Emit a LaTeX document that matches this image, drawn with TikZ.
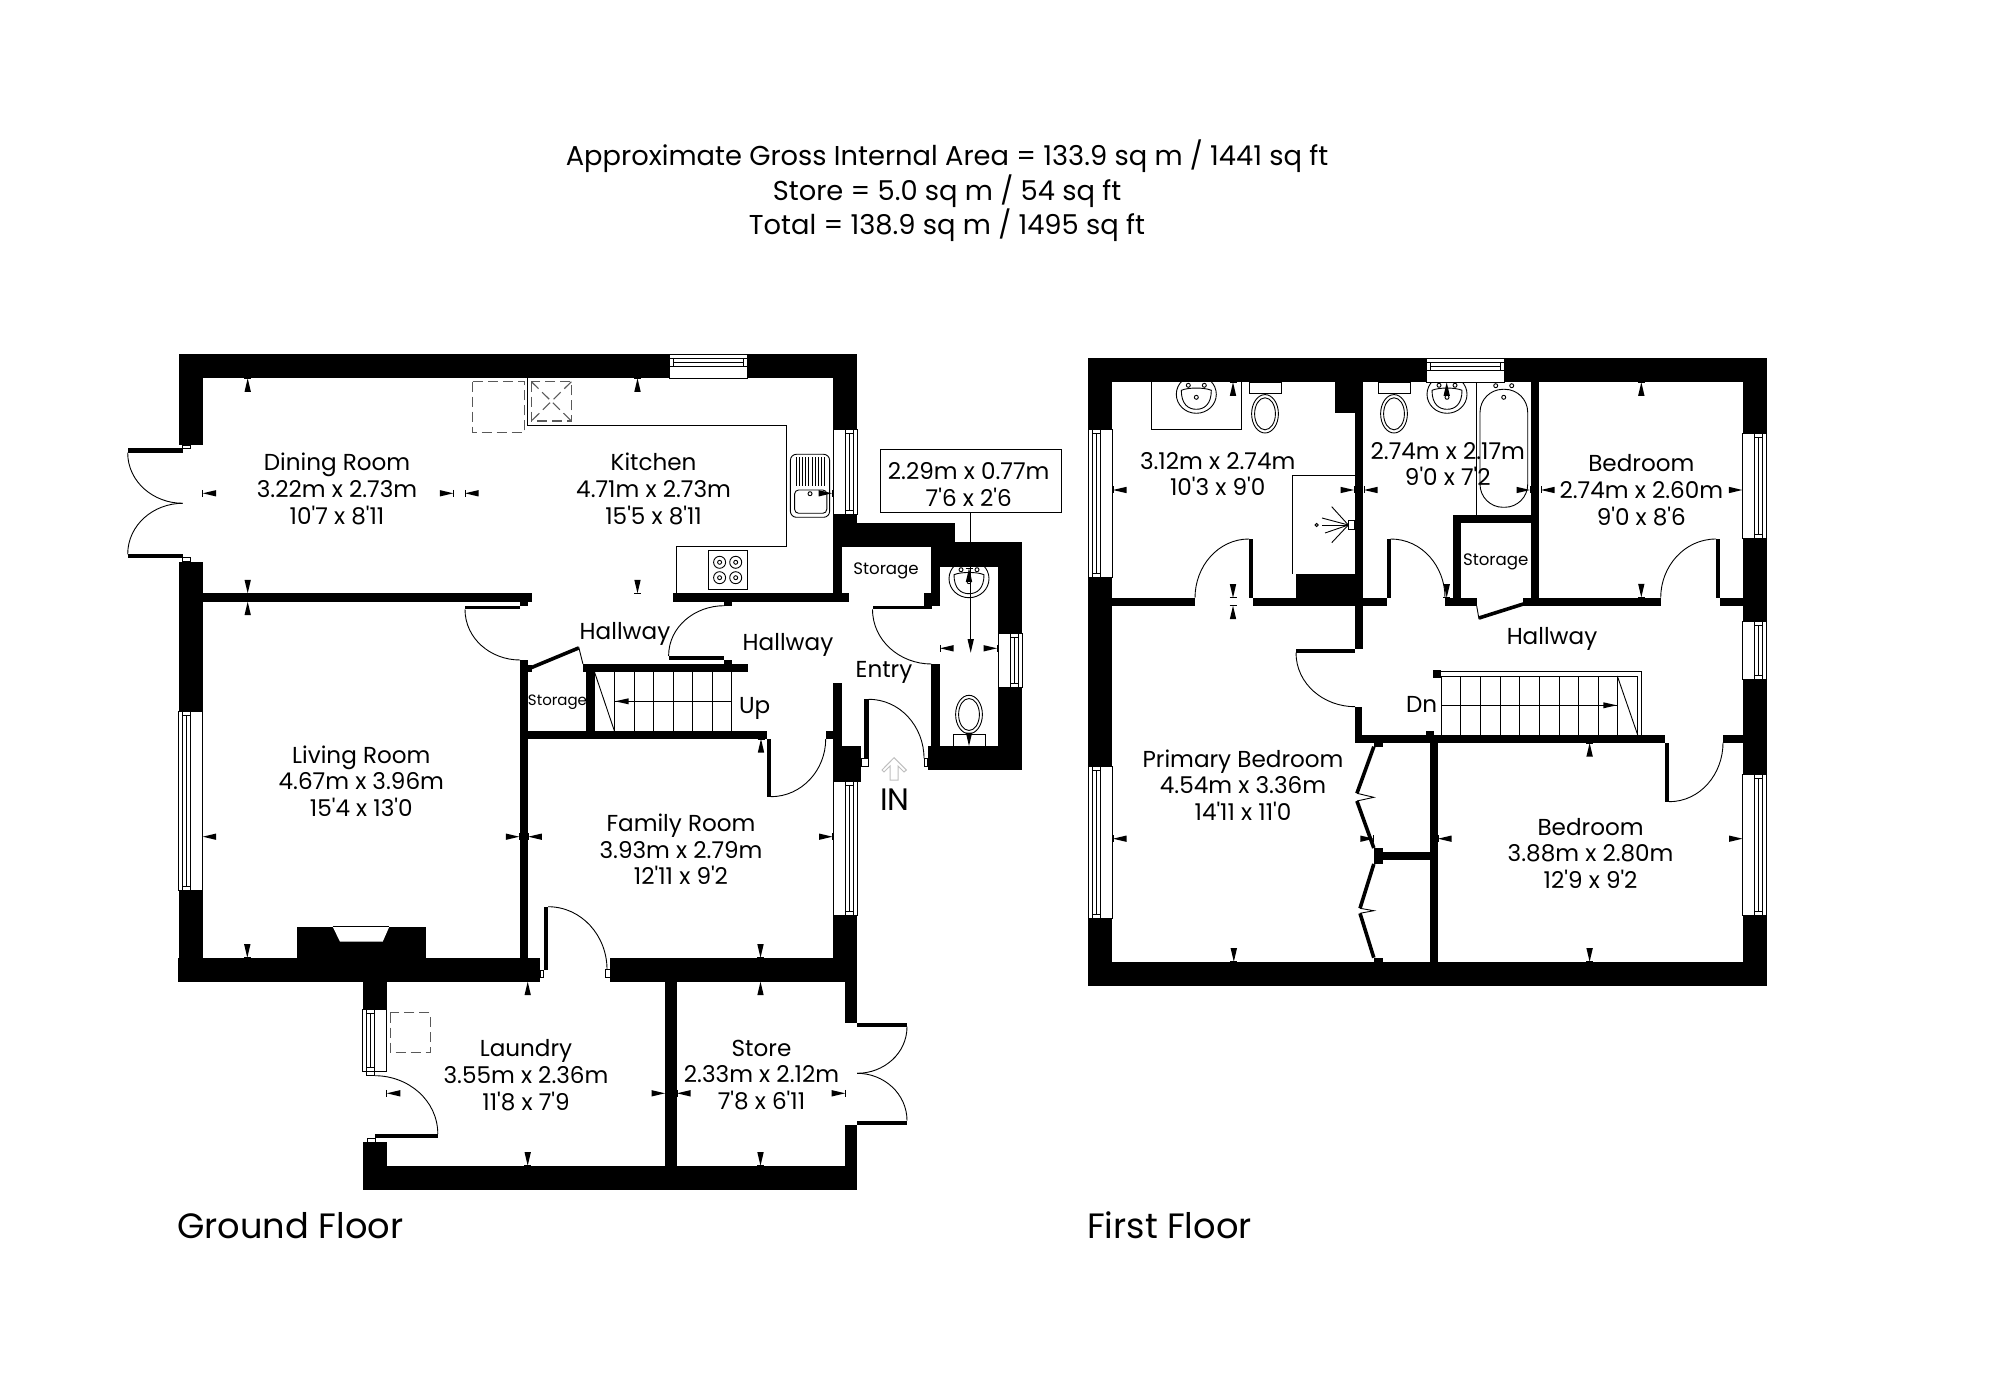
\documentclass[tikz,border=0pt]{standalone}
\usepackage{fontspec}
\newfontfamily\planfont{Poppins}
\tikzset{
  room/.style={font=\planfont\fontsize{11.55}{13.35}\selectfont, align=center, inner sep=0pt},
  smallroom/.style={font=\planfont\fontsize{8.3}{10}\selectfont, inner sep=0pt},
  floorname/.style={font=\planfont\fontsize{17.6}{20}\selectfont, anchor=west, inner sep=0pt},
  title/.style={font=\planfont\fontsize{13.65}{17.25}\selectfont, align=center, inner sep=0pt},
  wall/.style={fill=black},
  fine/.style={draw=black, line width=0.45pt},
  hatch/.style={draw=black!65, line width=0.55pt, dash pattern=on 5pt off 2.5pt},
}
\begin{document}
\begin{tikzpicture}[x=0.5pt,y=-0.5pt]
\useasboundingbox (0,0) rectangle (2000,1400);

\node[title] (areas) at (947,191) {Approximate Gross Internal Area = 133.9 sq m / 1441 sq ft\\Store = 5.0 sq m / 54 sq ft\\Total = 138.9 sq m / 1495 sq ft};

\node[fine, minimum width=90.5pt, minimum height=31.5pt, inner sep=0pt] (wcdims) at (970.7,480.5) {};
\node[room] (wcsize) at (968.7,484.5) {2.29m x 0.77m\\7'6 x 2'6};
\coordinate (wctip) at (970.7,640);
\draw[fine] (wcdims) -- (wctip);
\fill[wall] (970.7,652.7) -- (967.5,639.2) -- (973.9,639.2) -- cycle;

\draw[fine] (527.9,378.3) -- (527.9,425) -- (786.4,425) -- (786.4,546.7) -- (676.8,546.7) -- (676.8,593.3);
\draw[hatch] (472.7,381.7) rectangle (524.3,432.7);
\draw[hatch] (390.3,1012.7) rectangle (430.2,1052.3);
\draw[hatch] (531.4,381.7) rectangle (571.4,421);
\draw[hatch] (531.4,381.7) -- (571.4,421);
\draw[hatch] (571.4,381.7) -- (531.4,421);
\draw[fine] (708.2,550) rectangle (747.5,589.3);
\foreach \hx in {719.6,735.7}
  \foreach \hy in {562.3,577.7} {
    \draw[fine] (\hx,\hy) circle (3pt);
    \draw[fine] (\hx,\hy) circle (1pt);
  }
\draw[fine, rounded corners=3pt] (790.4,454.3) rectangle (829.6,517.3);
\draw[fine, rounded corners=2pt] (794.6,490) rectangle (826.8,513.3);
\foreach \tk in {0,...,9}
  \draw[fine] (796+\tk*3.2,457.3) -- (796+\tk*3.2,485.7);
\draw[fine] (810,493.7) circle (1pt);

\foreach \bx/\by in {1196.3/382.3,1447/382.3,969/566.7} {
  \begin{scope}[shift={(\bx,\by)}]
    \begin{scope}
      \clip (-21,0) rectangle (21,32);
      \draw[fine] (0,12) ellipse (10pt and 9.5pt);
    \end{scope}
    \draw[fine] (-15,8) .. controls (-15,22) and (-8,27) .. (0,27) .. controls (8,27) and (15,22) .. (15,8) .. controls (8,5) and (-8,5) .. cycle;
    \draw[fine] (-8,3) circle (1pt);
    \draw[fine] (8,3) circle (1pt);
    \draw[fine] (0,15) circle (1pt);
  \end{scope}
}
\foreach \tx/\ty/\ts in {1265/382.3/1,1394/382.3/1,969/746/-1} {
  \begin{scope}[shift={(\tx,\ty)}, yscale=\ts]
    \draw[fine] (-16,0) rectangle (16,11.5);
    \draw[fine] (0,31.5) ellipse (6.7pt and 9.6pt);
    \draw[fine] (0,31.5) ellipse (5.2pt and 8pt);
  \end{scope}
}

\draw[fine] (1151,382.3) -- (1151,429) -- (1241.7,429) -- (1241.7,382.3);
\draw[fine] (1292.3,574) -- (1292.3,475.7) -- (1355,475.7);
\draw[fine] (1316.7,525) circle (0.8pt);
\foreach \rx/\ry in {1331.7/506.7,1322/518,1322/525,1325/533,1331.7/542.7}
  \draw[fine] (1348.3,525) -- (\rx,\ry);
\draw[fine, fill=white] (1348.3,520.5) rectangle (1354,529.5);
\draw[fine] (1476.7,382.3) -- (1476.7,515);
\draw[fine, rounded corners=11.5pt] (1480,389.3) rectangle (1527.7,507.3);
\draw[fine] (1495.7,385.7) circle (1pt);
\draw[fine] (1511.7,385.7) circle (1pt);
\draw[fine] (1503.7,397.3) circle (1pt);

\foreach \sx in {614.3,634,653.6,673.2,692.9,712.1,731.4}
  \draw[fine] (\sx,671.7) -- (\sx,730.7);
\draw[fine] (594.6,672.3) -- (614.3,730.7);
\draw[fine] (731.4,701.3) -- (615,701.3);
\fill[wall] (615,701.3) -- (628.6,698.3) -- (628.6,704.3) -- cycle;

\foreach \sx in {1441,1460.7,1480.3,1500,1519.7,1539.3,1559,1578.7,1598.3,1617.3}
  \draw[fine] (\sx,676) -- (\sx,735);
\draw[fine] (1441,671.7) -- (1641.7,671.7) -- (1641.7,735);
\draw[fine] (1441,676) -- (1637.7,676) -- (1637.7,735);
\draw[fine] (1617.3,676) -- (1637.7,735);
\draw[fine] (1441,705.3) -- (1616.7,705.3);
\fill[wall] (1616.7,705.3) -- (1603.4,702.3) -- (1603.4,708.3) -- cycle;

\foreach \xa/\ya/\xb/\yb in {178.7/354/857/378.3, 178.7/354/202.7/445, 178.7/561.7/202.7/981.7,
  833/354/857/546.7, 833/522.7/955.4/546.7, 833/546.7/842/593.3, 931.4/542.3/1022/566.7,
  931.4/546.7/940/605.7, 923.6/593.3/940/605.7, 872.5/605.7/932/609.3, 931.4/664/940/746,
  998.2/542.3/1022/770, 927.5/746/1022/770, 672.5/593.3/849.3/601.7, 724.3/601.7/732/605.7,
  202.7/593.3/532/601.7, 520/601.7/528.3/605.7, 465/605.7/520/609.3, 519.6/660/527.9/957.7,
  527.9/665/532/671.7, 582.9/664/747.5/671.7, 724.3/660/732/664, 668.6/656/724.3/660,
  586.4/671.7/594.6/730.7, 527.9/730.7/767/739, 767/739/770.7/796.7, 825.7/730.7/833/739,
  833/683.3/842/746, 833/746/861.4/781.7, 833/781.7/857/981.7, 178.3/957.7/540/981.7,
  296.7/926.7/426/957.7, 362.7/981.7/386.8/1009.3, 543.5/906.7/548/970, 610/957.7/857/981.7,
  665/981.7/677/1165.7, 845/981.7/857.2/1022.7, 845/1125/857.2/1190, 362.7/1165.7/857.2/1190,
  362.7/1142.3/386.8/1190, 857.2/1023.3/907/1026.7, 857.2/1120.7/907/1125,
  127.7/448.3/182.7/452.7, 127.7/554.3/182.7/558.3, 374.8/1134/437.8/1138.3,
  864.3/699.3/868.6/758.3,
  1088.3/358.3/1766.7/382.3, 1088.3/358.3/1112.3/985.7, 1742.7/358.3/1766.7/985.7,
  1088.3/961.7/1766.7/985.7, 1112.3/597.7/1195/606, 1252.7/597.7/1386.7/606,
  1249/539/1252.7/597.7, 1296/574/1355/597.7, 1335/382/1355/413.3, 1355/382/1363.3/649,
  1296/649/1355/652.7, 1386.7/539/1390.7/597.7, 1445/597.7/1476.7/606, 1453.3/515/1461/598,
  1453.3/515/1531/523.3, 1531/382/1539.3/606, 1523.3/597.7/1660.7/606, 1716/539/1720/597.7,
  1720/597.7/1743/606, 1354.6/706.7/1362.4/742.7, 1354.6/734.5/1665/742.7, 1723/734.5/1743/742.7,
  1664.5/742.7/1669/801.7, 1425.7/730.5/1434/735, 1430/735/1438/961.7, 1383/851.7/1430/860,
  1373.8/848/1383/864, 1373.8/742.7/1383/746.7, 1373.8/957.7/1383/961.7, 1433.3/670/1441/678.3}
  \fill[wall] (\xa,\ya) rectangle (\xb,\yb);

\fill[white] (332.7,926.7) -- (389.3,926.7) -- (382.7,941.7) -- (340,941.7) -- cycle;
\draw[fine] (332.7,926.7) -- (389.3,926.7);

\foreach \xa/\ya/\xb/\yb in {182.7/445/190.7/448.3, 182.7/557.7/190.7/561.7, 540/970/543.5/977.3,
  605.9/969.3/610/977.3, 366.2/1071.7/374.8/1075.7, 367/1138.3/375/1142.3, 861.4/758/868.6/766.7,
  924/758/927.5/766.7}
  \draw[fine] (\xa,\ya) rectangle (\xb,\yb);

\foreach \xo/\s/\ya/\yb in {178.3/1/711.7/890.7, 857/-1/429.3/514.3, 1022/-1/633.3/687.3,
  857/-1/781.7/915, 362.7/1/1009.3/1071.7, 1088.3/1/429.3/577.3, 1088.3/1/766.7/918.3,
  1766.7/-1/433.3/538.3, 1766.7/-1/621/679.3, 1766.7/-1/774.3/915} {
  \draw[fine, fill=white] (\xo,\ya) rectangle (\xo+\s*24,\yb);
  \draw[fine] (\xo+\s*4,\ya) rectangle (\xo+\s*12,\yb);
  \draw[fine] (\xo+\s*8,\ya+4) -- (\xo+\s*8,\yb-4);
  \draw[fine] (\xo+\s*4,\ya+4) -- (\xo+\s*12,\ya+4);
  \draw[fine] (\xo+\s*4,\yb-4) -- (\xo+\s*12,\yb-4);
}
\foreach \xa/\xb/\yo in {669/747/354, 1426/1504/358.3} {
  \draw[fine, fill=white] (\xa,\yo) rectangle (\xb,\yo+24);
  \draw[fine] (\xa,\yo+4) rectangle (\xb,\yo+12);
  \draw[fine] (\xa+4,\yo+8) -- (\xb-4,\yo+8);
  \draw[fine] (\xa+4,\yo+4) -- (\xa+4,\yo+12);
  \draw[fine] (\xb-4,\yo+4) -- (\xb-4,\yo+12);
}

\draw[fine] (127.7,452.7) to[out=-90,in=180] (182.7,503.3);
\draw[fine] (127.7,554.3) to[out=90,in=180] (182.7,503.3);
\draw[fine] (465,609.3) to[out=-90,in=180] (520,660);
\draw[fine] (668.6,656) to[out=90,in=180] (724.3,605.7);
\draw[fine] (770.7,796.7) to[out=0,in=-90] (825.7,739);
\draw[fine] (868.6,699.3) to[out=0,in=90] (924,758.3);
\draw[fine] (872.5,609.3) to[out=-90,in=180] (931.4,664);
\draw[fine] (548,906.7) to[out=0,in=90] (607,969.3);
\draw[fine] (374.8,1075.7) to[out=0,in=90] (437.8,1134);
\draw[fine] (907,1026.7) to[out=-90,in=0] (857.2,1073.3);
\draw[fine] (907,1120.7) to[out=90,in=0] (857.2,1073.3);
\draw[fine] (1249,539) to[out=180,in=90] (1195,597.7);
\draw[fine] (1390.7,539) to[out=0,in=90] (1445,597.7);
\draw[fine] (1716,539) to[out=180,in=90] (1660.7,597.7);
\draw[fine] (1296,652.7) to[out=-90,in=180] (1355,706.7);
\draw[fine] (1669,801.7) to[out=0,in=-90] (1723,742.7);

\draw[line width=1.8pt] (530.4,668) -- (578.6,648);
\draw[fine] (578.6,646.7) -- (582.9,664);
\draw[fine] (1476.7,606) -- (1479,619.3);
\draw[line width=1.8pt] (1479,618) -- (1523.3,604);
\draw[line width=1.8pt] (1373.8,746.7) -- (1356.9,793.3);
\draw[fine] (1356.9,793.3) -- (1373.8,797.3) -- (1356.9,801);
\draw[line width=1.8pt] (1356.9,801) -- (1373.8,848);
\draw[line width=1.8pt] (1373.8,864) -- (1360,908.3);
\draw[fine] (1360,908.3) -- (1373.8,910.7) -- (1360,913.3);
\draw[line width=1.8pt] (1360,913.3) -- (1373.8,957.7);

\draw[black!25, line width=0.5pt] (894,757.7) -- (906.4,770) -- (904,772) -- (898,766) -- (898,780) -- (890,780) -- (890,766) -- (884,772) -- (882,770) -- cycle;

\foreach \px/\py in {247.7/378.3, 247.7/601.7, 637.5/378.3, 527.7/981.7, 761/739, 760.5/981.7, 969/568.3,
  1233/382.3, 1233/605.7, 1446.7/382.3, 1641.3/382.3, 1589.6/743}
  {\fill[wall] (\px,\py) -- (\px-3.2,\py+13.5) -- (\px+3.2,\py+13.5) -- cycle;
   \draw[fine] (\px-3.5,\py) -- (\px+3.5,\py);}
\foreach \px/\py in {247.7/593.3, 637.5/593.3, 247.3/957.7, 760.5/957.7, 760.5/1165.7, 527.7/1165.7, 969/746,
  1233/597.7, 1446.7/597.7, 1641.3/597.3, 1233.8/961.7, 1589.6/961.7}
  {\fill[wall] (\px,\py) -- (\px-3.2,\py-13.5) -- (\px+3.2,\py-13.5) -- cycle;
   \draw[fine] (\px-3.5,\py) -- (\px+3.5,\py);}
\foreach \px/\py in {202.7/493.3, 465/493.3, 202.7/836.7, 528.3/836.7, 386.8/1093.3, 677/1093.3, 940/648.3,
  1113/490, 1364/490, 1541/490, 1113/838.7, 1438/838.7}
  {\fill[wall] (\px,\py) -- (\px+13.5,\py-3.2) -- (\px+13.5,\py+3.2) -- cycle;
   \draw[fine] (\px,\py-3.5) -- (\px,\py+3.5);}
\foreach \px/\py in {453.3/493.3, 832/493.3, 519.3/836.7, 832.5/836.7, 665/1093.3, 845.2/1093.3, 997/648.3,
  1354/490, 1530/490, 1742.3/490, 1373.8/838.7, 1742.5/838.7}
  {\fill[wall] (\px,\py) -- (\px-13.5,\py-3.2) -- (\px-13.5,\py+3.2) -- cycle;
   \draw[fine] (\px,\py-3.5) -- (\px,\py+3.5);}

\node[room] (dining) at (337,489) {Dining Room\\3.22m x 2.73m\\10'7 x 8'11};
\node[room] (kitchen) at (653.6,489) {Kitchen\\4.71m x 2.73m\\15'5 x 8'11};
\node[room] (living) at (361.3,781) {Living Room\\4.67m x 3.96m\\15'4 x 13'0};
\node[room] (family) at (681,849.5) {Family Room\\3.93m x 2.79m\\12'11 x 9'2};
\node[room] (laundry) at (526,1075) {Laundry\\3.55m x 2.36m\\11'8 x 7'9};
\node[room] (store) at (761.5,1075) {Store\\2.33m x 2.12m\\7'8 x 6'11};
\node[room] (hallwest) at (625,634) {Hallway};
\node[room] (halleast) at (788,644.5) {Hallway};
\node[room] (entry) at (884,672.5) {Entry};
\node[room] (up) at (754.6,708) {Up};
\node[smallroom] (storagenorth) at (886,571) {Storage};
\node[smallroom, font=\planfont\fontsize{7.5}{10}\selectfont] (storagestair) at (557.5,702) {Storage};
\node[room, font=\planfont\fontsize{15.5}{18}\selectfont] (inlabel) at (895,799.5) {IN};

\node[room] (ensuite) at (1217.7,474) {3.12m x 2.74m\\10'3 x 9'0};
\node[room] (bath) at (1447.8,464) {2.74m x 2.17m\\9'0 x 7'2};
\node[room] (bedeast) at (1641.3,490) {Bedroom\\2.74m x 2.60m\\9'0 x 8'6};
\node[room] (primary) at (1243,785) {Primary Bedroom\\4.54m x 3.36m\\14'11 x 11'0};
\node[room] (bedsouth) at (1590.6,853.3) {Bedroom\\3.88m x 2.80m\\12'9 x 9'2};
\node[smallroom] (storageupper) at (1495.7,561.5) {Storage};
\node[room] (hallupper) at (1552,638.5) {Hallway};
\node[room] (down) at (1421.7,704.5) {Dn};

\node[floorname] (ground) at (177,1225.5) {Ground Floor};
\node[floorname] (first) at (1086.7,1225.5) {First Floor};
\end{tikzpicture}
\end{document}
